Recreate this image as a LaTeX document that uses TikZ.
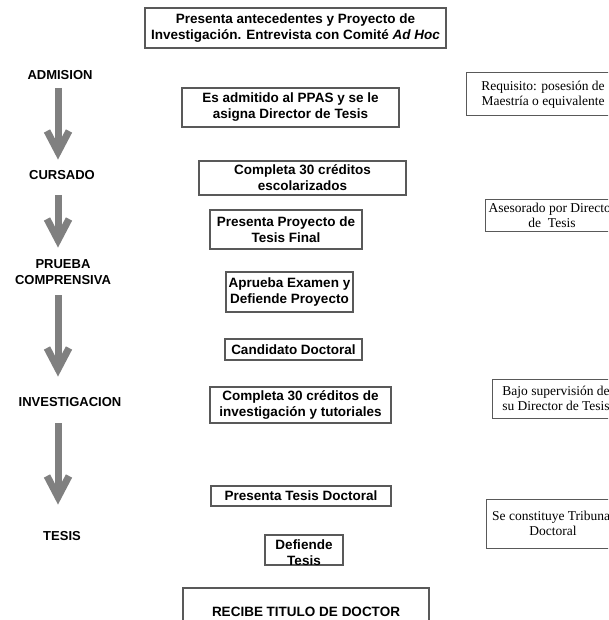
\documentclass[tikz,border=0pt]{standalone}
\usepackage{fontspec}
\setmainfont{Liberation Serif}
\setsansfont{Liberation Sans}
\usetikzlibrary{calc}
\begin{document}
\begin{tikzpicture}[x=1pt,y=-1pt,
  box/.style={draw=black!65, line width=1.1pt, inner sep=0pt, align=center,
    font=\sffamily\bfseries\fontsize{13.5}{16}\selectfont},
  note/.style={draw=black!65, line width=1pt, inner sep=0pt, align=center,
    font=\rmfamily\fontsize{13.5}{14.5}\selectfont},
  stage/.style={inner sep=0pt, align=center,
    font=\sffamily\bfseries\fontsize{13}{16}\selectfont},
  arr/.style={draw=black!50, line width=7pt, line join=miter}]
\useasboundingbox (0,0) rectangle (608,620);
\clip (0,0) rectangle (608,620);
\fill[white] (0,0) rectangle (608,620);

% stage labels
\node[stage] (adm) at (60,75) {ADMISION};
\node[stage] (cur) at (62,175) {CURSADO};
\node[stage] (pru) at (63,272) {PRUEBA\\COMPRENSIVA};
\node[stage] (inv) at (70,402) {INVESTIGACION};
\node[stage] (tes) at (62,536) {TESIS};

% arrows
\coordinate (a1s) at (58,88);  \coordinate (a1e) at (58,152);
\coordinate (a2s) at (58,195); \coordinate (a2e) at (58,240);
\coordinate (a3s) at (58,295); \coordinate (a3e) at (58,369);
\coordinate (a4s) at (58,423); \coordinate (a4e) at (58,497);
\foreach \s/\e in {a1s/a1e,a2s/a2e,a3s/a3e,a4s/a4e}{
  \draw[arr] (\s) -- (\e);
  \draw[arr] ($(\e)+(-11,-21)$) -- (\e) -- ($(\e)+(11,-21)$);
}

% central boxes
\node[box, minimum width=301, minimum height=40] (b1) at (295.5,28)
  {Presenta antecedentes y Proyecto de\\Investigación. Entrevista con Comité \textit{Ad Hoc}};
\node[box, minimum width=217, minimum height=39] (b2) at (290.5,107.5)
  {Es admitido al PPAS y se le\\asigna Director de Tesis};
\node[box, minimum width=207, minimum height=34] (b3) at (302.5,178)
  {Completa 30 créditos\\escolarizados};
\node[box, minimum width=152, minimum height=39] (b4) at (286,229.5)
  {Presenta Proyecto de\\Tesis Final};
\node[box, minimum width=127, minimum height=40] (b5) at (289.5,292)
  {Aprueba Examen y\\Defiende Proyecto};
\node[box, minimum width=137, minimum height=21] (b6) at (293.5,349.5)
  {Candidato Doctoral};
\node[box, minimum width=181, minimum height=36] (b7) at (300.5,405)
  {Completa 30 créditos de\\investigación y tutoriales};
\node[box, minimum width=180, minimum height=20] (b8) at (301,496)
  {Presenta Tesis Doctoral};
\node[box, minimum width=78, minimum height=30] (b9) at (304,550) {};
\node[box, draw=none] (b9t) at (304,553) {Defiende\\Tesis};
\node[box, minimum width=246, minimum height=48] (b10) at (306,612)
  {RECIBE TITULO DE DOCTOR};

% side notes
\node[note, minimum width=154, minimum height=43] (n1) at (543,94.5)
  {Requisito: posesión de\\Maestría o equivalente};
\node[note, minimum width=134, minimum height=31] (n2) at (552,215.5)
  {Asesorado por Director\\de\ \ Tesis};
\node[note, minimum width=128, minimum height=39] (n3) at (556,398.5)
  {Bajo supervisión de\\su Director de Tesis};
\node[note, minimum width=134, minimum height=49] (n4) at (553,523.5)
  {Se constituye Tribunal\\Doctoral};
\end{tikzpicture}
\end{document}
